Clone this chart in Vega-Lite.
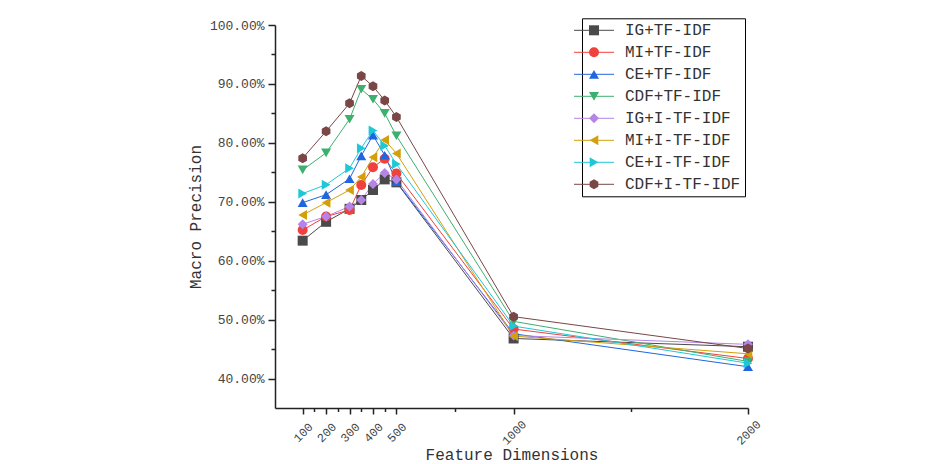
{
  "$schema": "https://vega.github.io/schema/vega-lite/v6.json",
  "width": 473,
  "height": 383,
  "autosize": "none",
  "padding": {"left": 275, "top": 25, "right": 201, "bottom": 56},
  "background": "white",
  "config": {"view": {"stroke": null}, "font": "Liberation Mono"},
  "datasets": {
    "rows": [
      {"series": "IG+TF-IDF", "dim": 100, "value": 63.4},
      {"series": "IG+TF-IDF", "dim": 200, "value": 66.6},
      {"series": "IG+TF-IDF", "dim": 300, "value": 68.8},
      {"series": "IG+TF-IDF", "dim": 350, "value": 70.3},
      {"series": "IG+TF-IDF", "dim": 400, "value": 72.0},
      {"series": "IG+TF-IDF", "dim": 450, "value": 73.8},
      {"series": "IG+TF-IDF", "dim": 500, "value": 73.3},
      {"series": "IG+TF-IDF", "dim": 1000, "value": 46.8},
      {"series": "IG+TF-IDF", "dim": 2000, "value": 45.4},
      {"series": "MI+TF-IDF", "dim": 100, "value": 65.2},
      {"series": "MI+TF-IDF", "dim": 200, "value": 67.5},
      {"series": "MI+TF-IDF", "dim": 300, "value": 68.6},
      {"series": "MI+TF-IDF", "dim": 350, "value": 72.85},
      {"series": "MI+TF-IDF", "dim": 400, "value": 75.85},
      {"series": "MI+TF-IDF", "dim": 450, "value": 77.3},
      {"series": "MI+TF-IDF", "dim": 500, "value": 74.8},
      {"series": "MI+TF-IDF", "dim": 1000, "value": 48.4},
      {"series": "MI+TF-IDF", "dim": 2000, "value": 43.4},
      {"series": "CE+TF-IDF", "dim": 100, "value": 69.85},
      {"series": "CE+TF-IDF", "dim": 200, "value": 71.2},
      {"series": "CE+TF-IDF", "dim": 300, "value": 73.9},
      {"series": "CE+TF-IDF", "dim": 350, "value": 77.8},
      {"series": "CE+TF-IDF", "dim": 400, "value": 81.3},
      {"series": "CE+TF-IDF", "dim": 450, "value": 77.9},
      {"series": "CE+TF-IDF", "dim": 500, "value": 73.4},
      {"series": "CE+TF-IDF", "dim": 1000, "value": 47.6},
      {"series": "CE+TF-IDF", "dim": 2000, "value": 42.0},
      {"series": "CDF+TF-IDF", "dim": 100, "value": 75.4},
      {"series": "CDF+TF-IDF", "dim": 200, "value": 78.3},
      {"series": "CDF+TF-IDF", "dim": 300, "value": 84.0},
      {"series": "CDF+TF-IDF", "dim": 350, "value": 89.1},
      {"series": "CDF+TF-IDF", "dim": 400, "value": 87.4},
      {"series": "CDF+TF-IDF", "dim": 450, "value": 85.0},
      {"series": "CDF+TF-IDF", "dim": 500, "value": 81.2},
      {"series": "CDF+TF-IDF", "dim": 1000, "value": 49.7},
      {"series": "CDF+TF-IDF", "dim": 2000, "value": 42.9},
      {"series": "IG+I-TF-IDF", "dim": 100, "value": 66.2},
      {"series": "IG+I-TF-IDF", "dim": 200, "value": 67.5},
      {"series": "IG+I-TF-IDF", "dim": 300, "value": 69.2},
      {"series": "IG+I-TF-IDF", "dim": 350, "value": 70.3},
      {"series": "IG+I-TF-IDF", "dim": 400, "value": 73.0},
      {"series": "IG+I-TF-IDF", "dim": 450, "value": 74.9},
      {"series": "IG+I-TF-IDF", "dim": 500, "value": 73.8},
      {"series": "IG+I-TF-IDF", "dim": 1000, "value": 47.3},
      {"series": "IG+I-TF-IDF", "dim": 2000, "value": 45.8},
      {"series": "MI+I-TF-IDF", "dim": 100, "value": 67.76},
      {"series": "MI+I-TF-IDF", "dim": 200, "value": 69.85},
      {"series": "MI+I-TF-IDF", "dim": 300, "value": 72.0},
      {"series": "MI+I-TF-IDF", "dim": 350, "value": 74.2},
      {"series": "MI+I-TF-IDF", "dim": 400, "value": 77.55},
      {"series": "MI+I-TF-IDF", "dim": 450, "value": 80.5},
      {"series": "MI+I-TF-IDF", "dim": 500, "value": 78.2},
      {"series": "MI+I-TF-IDF", "dim": 1000, "value": 47.2},
      {"series": "MI+I-TF-IDF", "dim": 2000, "value": 44.2},
      {"series": "CE+I-TF-IDF", "dim": 100, "value": 71.4},
      {"series": "CE+I-TF-IDF", "dim": 200, "value": 72.9},
      {"series": "CE+I-TF-IDF", "dim": 300, "value": 75.7},
      {"series": "CE+I-TF-IDF", "dim": 350, "value": 79.1},
      {"series": "CE+I-TF-IDF", "dim": 400, "value": 82.1},
      {"series": "CE+I-TF-IDF", "dim": 450, "value": 79.5},
      {"series": "CE+I-TF-IDF", "dim": 500, "value": 76.4},
      {"series": "CE+I-TF-IDF", "dim": 1000, "value": 48.9},
      {"series": "CE+I-TF-IDF", "dim": 2000, "value": 42.6},
      {"series": "CDF+I-TF-IDF", "dim": 100, "value": 77.4},
      {"series": "CDF+I-TF-IDF", "dim": 200, "value": 81.96},
      {"series": "CDF+I-TF-IDF", "dim": 300, "value": 86.7},
      {"series": "CDF+I-TF-IDF", "dim": 350, "value": 91.35},
      {"series": "CDF+I-TF-IDF", "dim": 400, "value": 89.6},
      {"series": "CDF+I-TF-IDF", "dim": 450, "value": 87.2},
      {"series": "CDF+I-TF-IDF", "dim": 500, "value": 84.4},
      {"series": "CDF+I-TF-IDF", "dim": 1000, "value": 50.5},
      {"series": "CDF+I-TF-IDF", "dim": 2000, "value": 45.1}
    ]
  },
  "data": {"name": "rows"},
  "layer": [
    {
      "mark": {"type": "line", "strokeWidth": 1},
      "encoding": {
        "x": {
          "field": "dim", "type": "quantitative",
          "scale": {"domain": [-18, 2000], "nice": false, "zero": false},
          "axis": {
            "orient": "bottom",
            "values": [100, 200, 300, 400, 500, 1000, 2000],
            "format": "d",
            "title": "Feature Dimensions",
            "grid": false,
            "labelAngle": -45, "labelAlign": "center", "labelBaseline": "middle",
            "labelPadding": 18, "labelFlush": false, "labelOverlap": false,
            "labelFont": "Liberation Mono", "labelFontSize": 12, "labelColor": "#444",
            "tickSize": 6, "tickWidth": 1.5, "tickColor": "#222",
            "domainColor": "#222", "domainWidth": 1.5,
            "titleFont": "Liberation Mono", "titleFontSize": 16, "titleFontWeight": "normal",
            "titleColor": "#333", "titlePadding": 0
          }
        },
        "y": {
          "field": "value", "type": "quantitative",
          "scale": {"domain": [35, 100], "nice": false, "zero": false},
          "axis": {
            "orient": "left",
            "values": [40, 50, 60, 70, 80, 90, 100],
            "labelExpr": "format(datum.value, '.2f') + '%'",
            "title": "Macro Precision",
            "grid": false,
            "labelPadding": 4, "labelFlush": false, "labelOverlap": false,
            "labelFont": "Liberation Mono", "labelFontSize": 13, "labelColor": "#444",
            "tickSize": 7, "tickWidth": 1.5, "tickColor": "#222",
            "domainColor": "#222", "domainWidth": 1.5,
            "titleFont": "Liberation Mono", "titleFontSize": 16, "titleFontWeight": "normal",
            "titleColor": "#333", "titlePadding": 6
          }
        },
        "stroke": {
          "field": "series", "type": "nominal",
          "scale": {
            "domain": ["IG+TF-IDF", "MI+TF-IDF", "CE+TF-IDF", "CDF+TF-IDF", "IG+I-TF-IDF", "MI+I-TF-IDF", "CE+I-TF-IDF", "CDF+I-TF-IDF"],
            "range": ["#4a4a4a", "#f0413c", "#1f66e0", "#3cb06e", "#b584e6", "#d4a00a", "#1ec8d8", "#7a4646"]
          },
          "legend": {
            "title": null, "orient": "none", "legendX": 307, "legendY": -6.7,
            "symbolType": "M-4,0H4", "symbolSize": 100, "symbolStrokeWidth": 1,
            "labelFont": "Liberation Mono", "labelFontSize": 16, "labelOpacity": 0,
            "labelOffset": 23, "rowPadding": 6, "padding": 4,
            "strokeColor": "black", "zindex": 0
          }
        }
      }
    },
    {
      "mark": {"type": "point", "filled": true, "size": 100, "opacity": 1, "strokeWidth": 0},
      "encoding": {
        "x": {
          "field": "dim", "type": "quantitative",
          "axis": {
            "orient": "bottom", "values": [150, 250, 350, 450, 750, 1500],
            "labels": false, "domain": false, "grid": false, "title": null,
            "tickSize": 3.5, "tickWidth": 1.5, "tickColor": "#222"
          }
        },
        "y": {
          "field": "value", "type": "quantitative",
          "axis": {
            "orient": "left", "values": [45, 55, 65, 75, 85, 95],
            "labels": false, "domain": false, "grid": false, "title": null,
            "tickSize": 4, "tickWidth": 1.5, "tickColor": "#222"
          }
        },
        "fill": {
          "field": "series", "type": "nominal",
          "scale": {
            "domain": ["IG+TF-IDF", "MI+TF-IDF", "CE+TF-IDF", "CDF+TF-IDF", "IG+I-TF-IDF", "MI+I-TF-IDF", "CE+I-TF-IDF", "CDF+I-TF-IDF"],
            "range": ["#4a4a4a", "#f0413c", "#1f66e0", "#3cb06e", "#b584e6", "#d4a00a", "#1ec8d8", "#7a4646"]
          },
          "legend": {
            "title": null, "orient": "none", "legendX": 307, "legendY": -6.7,
            "symbolSize": 100, "symbolStrokeWidth": 0,
            "labelFont": "Liberation Mono", "labelFontSize": 16, "labelColor": "#333",
            "labelOffset": 23, "rowPadding": 6, "padding": 4, "zindex": 1
          }
        },
        "shape": {
          "field": "series", "type": "nominal",
          "scale": {
            "domain": ["IG+TF-IDF", "MI+TF-IDF", "CE+TF-IDF", "CDF+TF-IDF", "IG+I-TF-IDF", "MI+I-TF-IDF", "CE+I-TF-IDF", "CDF+I-TF-IDF"],
            "range": ["square", "circle", "triangle-up", "triangle-down", "diamond", "triangle-left", "triangle-right", "M0,-1L0.866,-0.5L0.866,0.5L0,1L-0.866,0.5L-0.866,-0.5Z"]
          },
          "legend": {
            "title": null, "orient": "none", "legendX": 307, "legendY": -6.7,
            "symbolSize": 100, "symbolStrokeWidth": 0,
            "labelFont": "Liberation Mono", "labelFontSize": 16, "labelColor": "#333",
            "labelOffset": 23, "rowPadding": 6, "padding": 4, "zindex": 1
          }
        }
      }
    }
  ],
  "resolve": {
    "axis": {"x": "independent", "y": "independent"},
    "legend": {"stroke": "independent", "fill": "independent", "shape": "independent"}
  }
}
